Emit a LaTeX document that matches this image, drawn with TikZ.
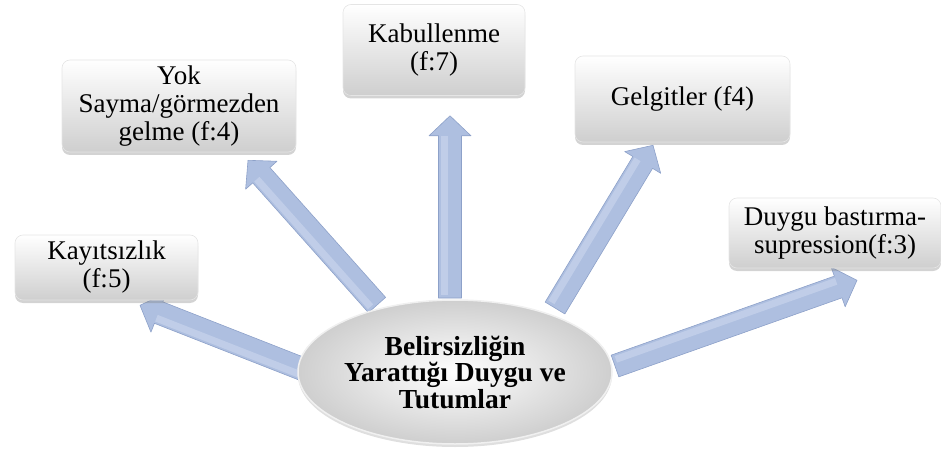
\documentclass[tikz,border=0pt]{standalone}
\usepackage{fontspec}
\setmainfont{Liberation Serif}
\usetikzlibrary{calc,shadows,backgrounds,shapes.geometric}

\definecolor{arrowfill}{HTML}{AEBFE0}
\definecolor{arrowedge}{HTML}{8DA1C9}
\definecolor{arrowshine}{HTML}{D6E0F3}

\tikzset{
  card/.style={rectangle, rounded corners=8pt, top color=white, bottom color=black!19,
    draw=black!10, line width=0.6pt, inner sep=0pt, align=center,
    drop shadow={opacity=0.35, shadow xshift=0pt, shadow yshift=-3pt},
    font=\fontsize{27}{28}\selectfont},
  hub/.style={ellipse, inner color=white, outer color=black!19, draw=black!6,
    line width=1.5pt, inner sep=0pt, align=center,
    drop shadow={opacity=0.25, shadow xshift=0pt, shadow yshift=-3pt},
    font=\bfseries\fontsize{27.5}{26.5}\selectfont},
  arrowbody/.style={fill=arrowfill, draw=arrowedge, line width=0.6pt, line join=round},
  arrowglint/.style={draw=arrowshine, line width=7pt, opacity=0.45}
}

% block arrow from #1 (tail) to #2 (tip), with a light streak along one side
\newcommand\blockarrow[2]{%
  \coordinate (ab) at ($(#2)!20pt!(#1)$);
  \path[arrowbody]
    ($(#1)!11.5pt!90:(#2)$) -- ($(ab)!11.5pt!90:(#2)$) -- ($(ab)!21pt!90:(#2)$)
    -- (#2) -- ($(ab)!21pt!-90:(#2)$) -- ($(ab)!11.5pt!-90:(#2)$)
    -- ($(#1)!11.5pt!-90:(#2)$) -- cycle;
  \path[arrowglint] ($($(#1)!3pt!(#2)$)!6pt!90:(#2)$) -- ($(ab)!6pt!90:(#2)$);
}

\begin{document}
\begin{tikzpicture}[x=1pt,y=-1pt]
\useasboundingbox (0,0) rectangle (941,454);

% central ellipse
\node[hub, minimum width=314pt, minimum height=144pt] (core) at (455,372)
  {Belirsizliğin\\Yarattığı Duygu ve\\Tutumlar};

% surrounding boxes
\node[card, minimum width=183pt, minimum height=65pt] (kay) at (106.5,267.5)
  {Kayıtsızlık\\(f:5)};
\node[card, minimum width=234pt, minimum height=92pt] (yok) at (179,106)
  {Yok\\Sayma/görmezden\\gelme (f:4)};
\node[card, minimum width=182pt, minimum height=91pt] (kab) at (434,50)
  {Kabullenme\\(f:7)};
\node[card, minimum width=215pt, minimum height=86pt] (gel) at (682.5,99)
  {Gelgitler (f4)};
\node[card, minimum width=212pt, minimum height=70pt] (duy) at (835,233)
  {Duygu bastırma-\\supression(f:3)};

% arrow end points
\coordinate (kay-tail) at ($(core.center)+(-145,0)$);
\coordinate (kay-tip)  at ($(kay.south)+(33.5,5)$);
\coordinate (yok-tail) at ($(core.center)+(-78,-67)$);
\coordinate (yok-tip)  at ($(yok.south)+(69,8)$);
\coordinate (kab-tail) at ($(core.center)+(-5,-74)$);
\coordinate (kab-tip)  at ($(kab.south)+(16,20)$);
\coordinate (gel-tail) at ($(core.center)+(100,-64)$);
\coordinate (gel-tip)  at ($(gel.south)+(-29.5,3)$);
\coordinate (duy-tail) at ($(core.center)+(160,-6)$);
\coordinate (duy-tip)  at ($(duy.south)+(22,12)$);

\begin{pgfonlayer}{background}
  \blockarrow{kay-tail}{kay-tip}
  \blockarrow{yok-tail}{yok-tip}
  \blockarrow{kab-tail}{kab-tip}
  \blockarrow{gel-tail}{gel-tip}
  \blockarrow{duy-tail}{duy-tip}
\end{pgfonlayer}
\end{tikzpicture}
\end{document}
